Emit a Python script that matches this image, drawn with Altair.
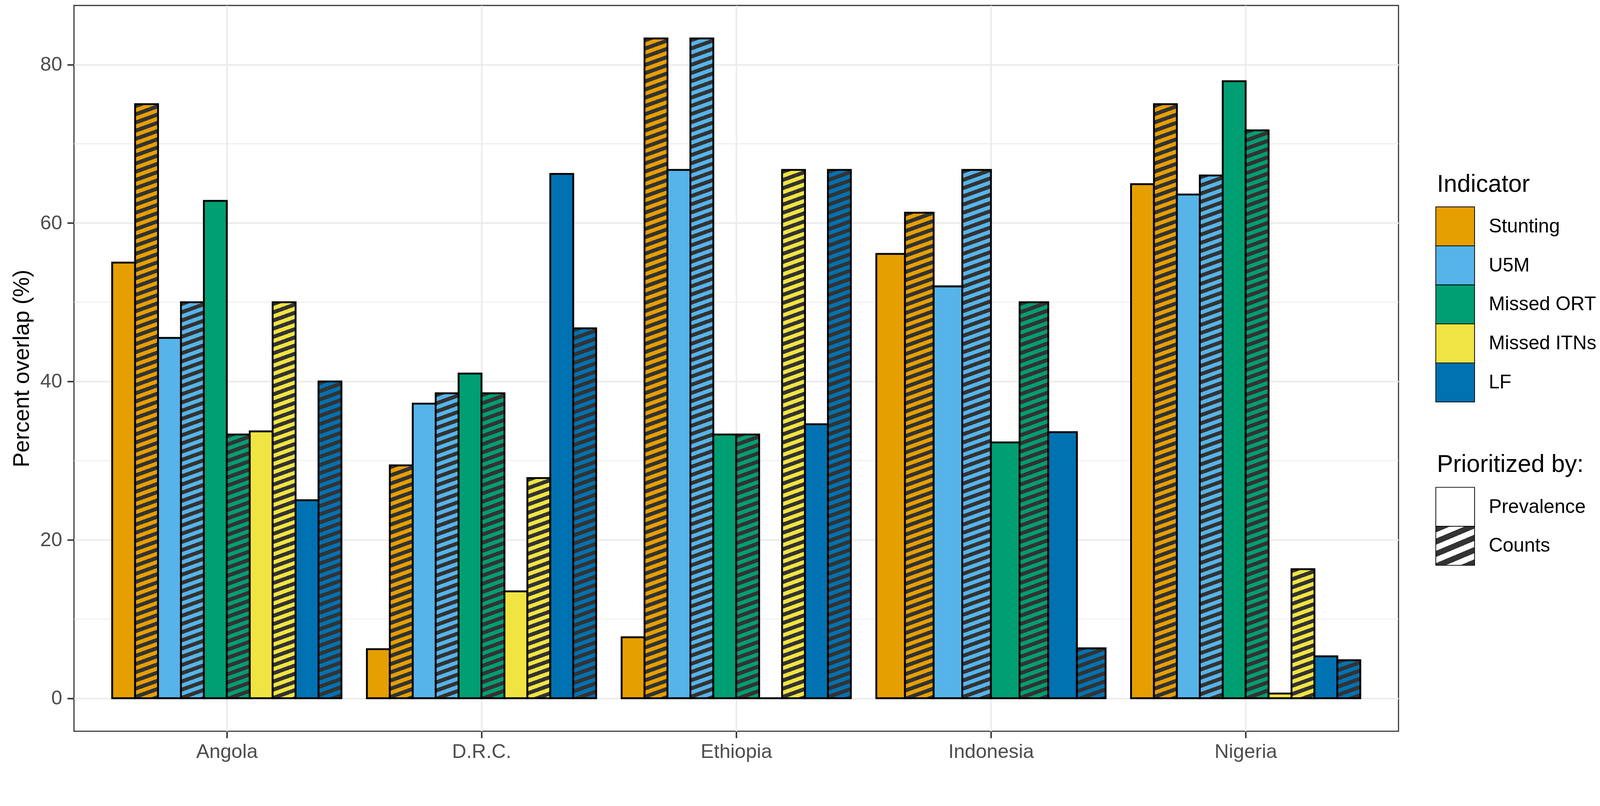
import json
import altair as alt

FONT = "Liberation Sans"

# ---------------- data ----------------
countries = ["Angola", "D.R.C.", "Ethiopia", "Indonesia", "Nigeria"]
indicators = ["Stunting", "U5M", "Missed ORT", "Missed ITNs", "LF"]
indicator_colors = ["#E69F00", "#56B4E9", "#009E73", "#F0E442", "#0072B2"]
priorities = ["Prevalence", "Counts"]

# values per country (Angola, D.R.C., Ethiopia, Indonesia, Nigeria); None = no bar
stunting_prev = [55.0, 6.2, 7.7, 56.1, 64.9]
stunting_cnt = [75.0, 29.4, 83.3, 61.3, 75.0]
u5m_prev = [45.5, 37.2, 66.7, 52.0, 63.6]
u5m_cnt = [50.0, 38.5, 83.3, 66.7, 66.0]
ort_prev = [62.8, 41.0, 33.3, 32.3, 77.9]
ort_cnt = [33.3, 38.5, 33.3, 50.0, 71.7]
itn_prev = [33.7, 13.5, 0.0, None, 0.6]
itn_cnt = [50.0, 27.8, 66.7, None, 16.3]
lf_prev = [25.0, 66.2, 34.6, 33.6, 5.3]
lf_cnt = [40.0, 46.7, 66.7, 6.3, 4.8]

y_major = [0, 20, 40, 60, 80]
y_minor = [10, 30, 50, 70]

series = [
    (stunting_prev, stunting_cnt),
    (u5m_prev, u5m_cnt),
    (ort_prev, ort_cnt),
    (itn_prev, itn_cnt),
    (lf_prev, lf_cnt),
]

# ---------------- layout / style ----------------
W, H = 3552, 1946
DARK = "#333333"
X_DOMAIN = [0.4, len(countries) + 0.6]
all_vals = [v for pair in series for arr in pair for v in arr if v is not None]
y_top = max(all_vals)
y_pad = 0.05 * y_top
Y_DOMAIN = [-y_pad, y_top + y_pad]
PX_X = W / (X_DOMAIN[1] - X_DOMAIN[0])
PX_Y = H / (Y_DOMAIN[1] - Y_DOMAIN[0])


def hatch(color, w, h, period=22.0, slope=0.36, frac=0.5):
    """Diagonal stripe fill as a hard-stop linear gradient (bounding-box units)."""
    L = slope * w + h
    stops = []
    k = 0
    while k * period < L:
        a = k * period / L
        b = min((k + frac) * period / L, 1.0)
        c = min((k + 1) * period / L, 1.0)
        stops += [
            {"offset": round(a, 5), "color": DARK},
            {"offset": round(b, 5), "color": DARK},
            {"offset": round(b, 5), "color": color},
            {"offset": round(c, 5), "color": color},
        ]
        k += 1
    t = L / ((slope * w) ** 2 + h ** 2)
    return {"gradient": "linear", "x1": 0, "y1": 0,
            "x2": round(t * slope * w, 6), "y2": round(t * h, 6), "stops": stops}


rows = []
for ci, country in enumerate(countries):
    items = []
    for ii, ind in enumerate(indicators):
        for pri, arr in zip(priorities, series[ii]):
            v = arr[ci]
            if v is not None:
                items.append((ind, ii, pri, v))
    n = len(items)
    bw = 0.9 / n
    for j, (ind, ii, pri, v) in enumerate(items):
        x0 = ci + 1 - 0.45 + j * bw
        col = indicator_colors[ii]
        fill = hatch(col, bw * PX_X, v * PX_Y) if pri == "Counts" and v > 0 else col
        rows.append({"country": country, "indicator": ind, "priority": pri,
                     "x0": x0, "x1": x0 + bw, "value": v, "fill": fill})

label_expr = json.dumps(countries) + "[datum.value - 1]"

y_enc = alt.Y(
    "value:Q",
    scale=alt.Scale(domain=Y_DOMAIN, nice=False, zero=False),
    axis=alt.Axis(values=y_major, title="Percent overlap (%)", titleFontSize=60,
                  titleFontWeight="normal", titleColor="black", titlePadding=17,
                  labelFontSize=53, labelColor="#4d4d4d", labelPadding=14,
                  tickSize=18, tickWidth=4, tickColor=DARK, gridColor="#ebebeb",
                  gridWidth=4, domain=False),
)

minor = alt.Chart(alt.Data(values=[{"value": v} for v in y_minor])).mark_rule(
    color="#ebebeb", strokeWidth=2.2
).encode(y=y_enc)

bars = alt.Chart(alt.Data(values=rows)).mark_bar(
    stroke="black", strokeWidth=5, strokeJoin="miter"
).encode(
    x=alt.X("x0:Q", scale=alt.Scale(domain=X_DOMAIN, nice=False, zero=False),
            axis=alt.Axis(values=list(range(1, len(countries) + 1)), labelExpr=label_expr,
                          title=None, labelFontSize=53, labelColor="#4d4d4d",
                          labelLimit=1000, labelOverlap=False,
                          labelPadding=11, tickSize=18, tickWidth=4, tickColor=DARK,
                          gridColor="#ebebeb", gridWidth=4, domain=False)),
    x2="x1:Q",
    y=y_enc,
    y2=alt.datum(0),
    fill=alt.Fill("fill:N", scale=None),
)

main = alt.layer(minor, bars).properties(
    width=W, height=H, view=alt.ViewBackground(stroke=DARK, strokeWidth=3)
)

# ---------------- legend ----------------
KEY = 104
LAB_X = 142
ind_rows = [{"label": n, "color": c} for n, c in zip(indicators, indicator_colors)]
ind_y = alt.Y("label:N", sort=indicators,
              scale=alt.Scale(type="band", domain=indicators, range=[540, 1063],
                              paddingInner=0, paddingOuter=0), axis=None)
ind_keys = alt.Chart(alt.Data(values=ind_rows)).mark_rect(stroke="black", strokeWidth=2).encode(
    x=alt.value(0), x2=alt.value(KEY), y=ind_y, fill=alt.Fill("color:N", scale=None))
ind_labels = alt.Chart(alt.Data(values=ind_rows)).mark_text(
    align="left", baseline="middle", fontSize=52, font=FONT, color="black"
).encode(x=alt.value(LAB_X), y=ind_y, text="label:N")

pri_rows = [{"label": "Prevalence", "color": "white"},
            {"label": "Counts", "color": hatch("white", KEY, 104.5, period=33.0, slope=0.42)}]
pri_y = alt.Y("label:N", sort=priorities,
              scale=alt.Scale(type="band", domain=priorities, range=[1292, 1501],
                              paddingInner=0, paddingOuter=0), axis=None)
pri_keys = alt.Chart(alt.Data(values=pri_rows)).mark_rect(stroke="black", strokeWidth=2).encode(
    x=alt.value(0), x2=alt.value(KEY), y=pri_y, fill=alt.Fill("color:N", scale=None))
pri_labels = alt.Chart(alt.Data(values=pri_rows)).mark_text(
    align="left", baseline="middle", fontSize=52, font=FONT, color="black"
).encode(x=alt.value(LAB_X), y=pri_y, text="label:N")

title_ind = alt.Chart(alt.Data(values=[{"t": "Indicator"}])).mark_text(
    align="left", baseline="alphabetic", fontSize=65, font=FONT, color="black"
).encode(x=alt.value(3), y=alt.value(500), text="t:N")
title_pri = alt.Chart(alt.Data(values=[{"t": "Prioritized by:"}])).mark_text(
    align="left", baseline="alphabetic", fontSize=65, font=FONT, color="black"
).encode(x=alt.value(3), y=alt.value(1251), text="t:N")

legend = alt.layer(
    alt.layer(ind_keys, ind_labels),
    alt.layer(pri_keys, pri_labels),
    title_ind, title_pri,
).resolve_scale(y="independent").properties(
    width=430, height=H, view=alt.ViewBackground(stroke="transparent")
)

chart = alt.hconcat(main, legend, spacing=100, bounds="flush").properties(
    padding={"left": 19, "top": -43, "right": 0, "bottom": 0}
).configure(font=FONT).configure_axis(labelFont=FONT, titleFont=FONT)

chart.save("out.html", embed_options={"renderer": "svg", "actions": False})
